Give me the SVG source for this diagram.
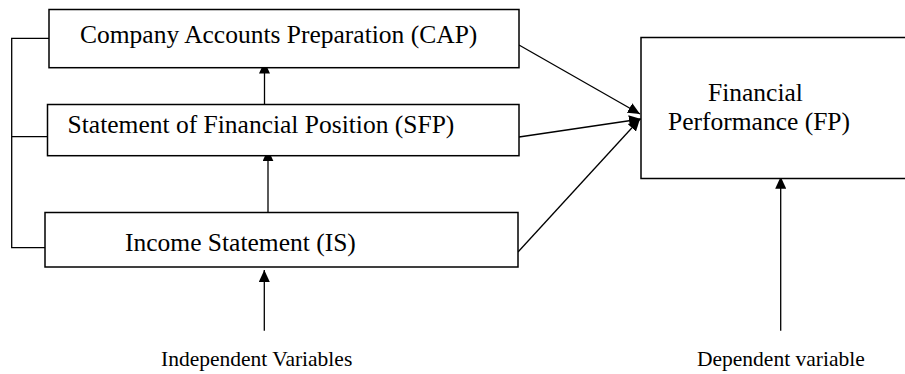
<svg xmlns="http://www.w3.org/2000/svg" width="905" height="374" viewBox="0 0 905 374">
<style>
.box{fill:#fff;stroke:#000;stroke-width:1.5}
.ln{fill:none;stroke:#000;stroke-width:1.3}
.t{font-family:"Liberation Serif","Times New Roman",serif;font-size:25.5px;fill:#000}
.lbl{font-family:"Liberation Serif","Times New Roman",serif;font-size:21.5px;fill:#000}
</style>
<defs>
<marker id="ah" markerUnits="userSpaceOnUse" markerWidth="12" markerHeight="11" refX="12" refY="5.5" orient="auto">
<path d="M0,0 L12,5.5 L0,11 z" fill="#000"/>
</marker>
</defs>
<rect width="905" height="374" fill="#fff"/>
<g id="connectors">
<path class="ln" d="M52,38.3 H11.7 V247.7 H45 M11.7,136.7 H52"/>
<line class="ln" x1="264.5" y1="104.5" x2="264.5" y2="61.5" marker-end="url(#ah)"/>
<line class="ln" x1="268" y1="212.5" x2="268" y2="149.3" marker-end="url(#ah)"/>
<line class="ln" x1="264.3" y1="330.7" x2="264.3" y2="270" marker-end="url(#ah)"/>
<line class="ln" x1="780.7" y1="330.7" x2="780.7" y2="176.7" marker-end="url(#ah)"/>
<line class="ln" x1="519" y1="45" x2="640" y2="114" marker-end="url(#ah)"/>
<line class="ln" x1="519" y1="137" x2="641" y2="119" marker-end="url(#ah)"/>
<line class="ln" x1="518" y1="252" x2="640" y2="119" marker-end="url(#ah)"/>
</g>
<g id="cap">
<rect class="box" x="49" y="9.5" width="470" height="58.2"/>
<text class="t" x="80" y="43">Company Accounts Preparation (CAP)</text>
</g>
<g id="sfp">
<rect class="box" x="47.5" y="104.5" width="471.5" height="51.2"/>
<text class="t" x="67.6" y="133">Statement of Financial Position (SFP)</text>
</g>
<g id="is">
<rect class="box" x="45" y="212.5" width="473" height="54.5"/>
<text class="t" x="125" y="250.6">Income Statement (IS)</text>
</g>
<g id="fp">
<rect class="box" x="641" y="37.5" width="300" height="141"/>
<text class="t" x="708" y="101">Financial</text>
<text class="t" x="668" y="130">Performance (FP)</text>
</g>
<g id="labels">
<text class="lbl" x="161" y="366">Independent Variables</text>
<text class="lbl" x="697" y="366">Dependent variable</text>
</g>
</svg>
